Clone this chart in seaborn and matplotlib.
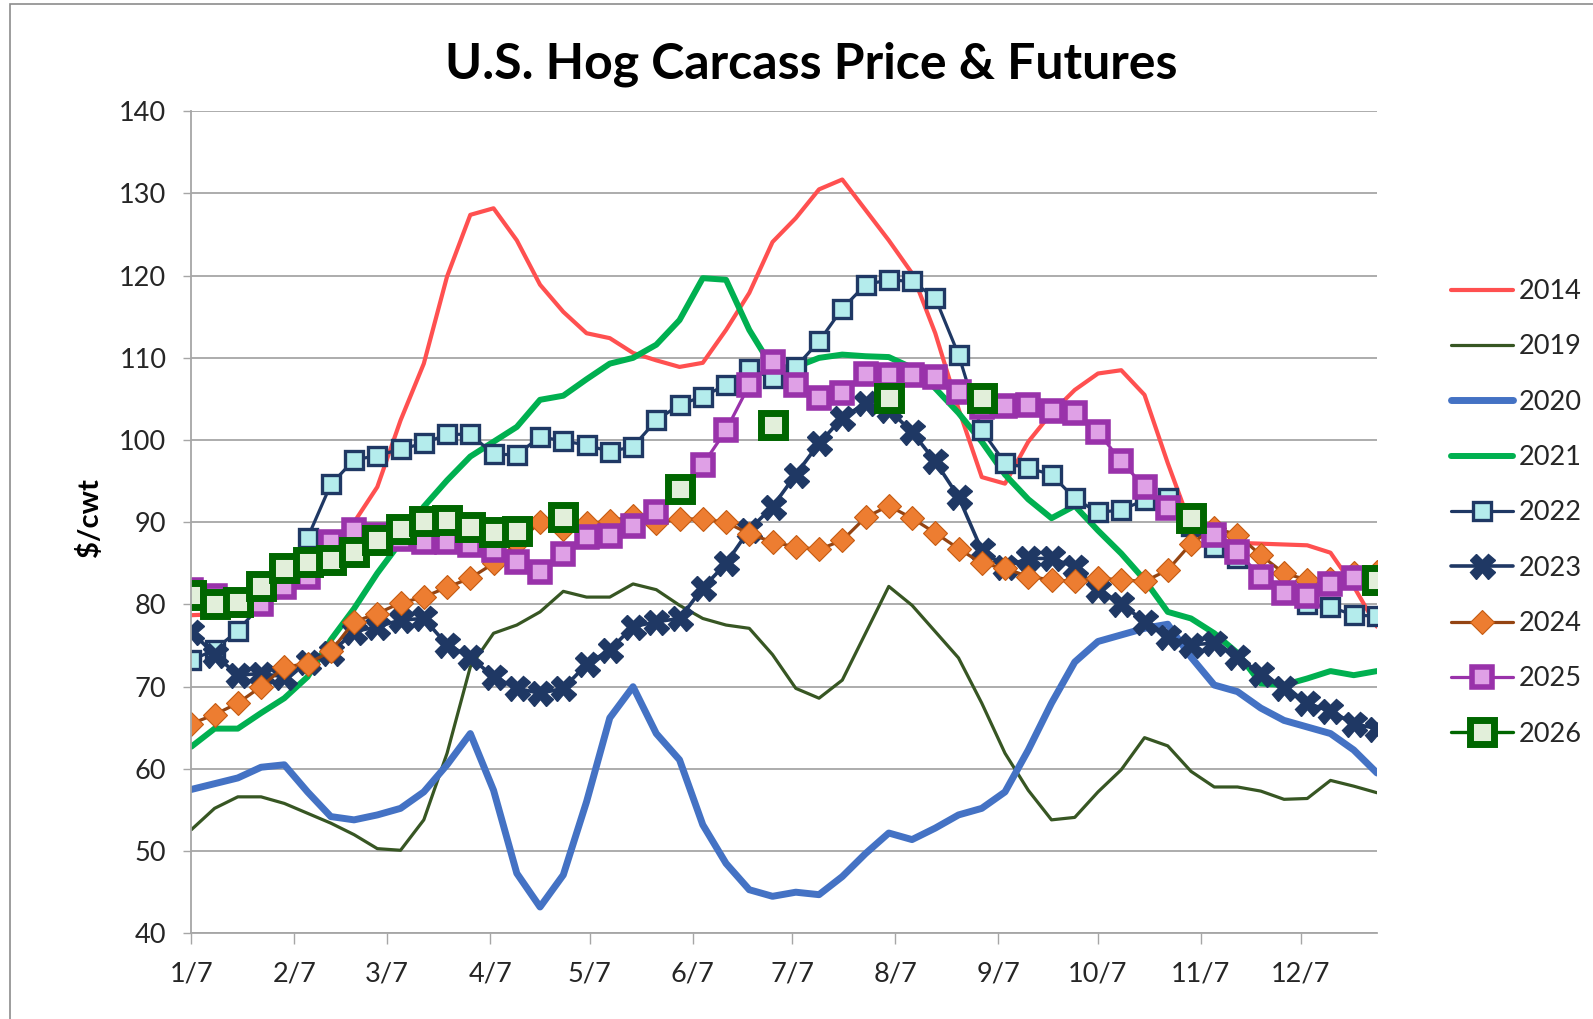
import matplotlib
matplotlib.use("Agg")
import matplotlib.pyplot as plt
import seaborn as sns

# weekly points, week 0 = Jan 7
weeks = list(range(52))
tick_days = [0, 31, 59, 90, 120, 151, 181, 212, 243, 273, 304, 334]
tick_labels = ["1/7", "2/7", "3/7", "4/7", "5/7", "6/7", "7/7", "8/7", "9/7", "10/7", "11/7", "12/7"]

y2014 = [78.7, 78.8, 79.0, 80.0, 81.2, 83.0, 86.0, 90.0, 94.3, 102.4,
         109.3, 119.9, 127.4, 128.2, 124.3, 118.9, 115.6, 113.0, 112.4, 110.6,
         109.7, 108.9, 109.4, 113.4, 117.9, 124.1, 127.0, 130.5, 131.7, 128.0,
         124.3, 120.3, 113.0, 103.8, 95.5, 94.7, 99.8, 103.3, 106.1, 108.1,
         108.5, 105.5, 97.2, 89.5, 88.0, 87.5, 87.4, 87.3, 87.2, 86.3,
         82.2, 77.3]
y2019 = [52.6, 55.2, 56.6, 56.6, 55.8, 54.6, 53.4, 52.0, 50.3, 50.1,
         53.8, 61.9, 72.4, 76.5, 77.5, 79.1, 81.6, 80.9, 80.9, 82.5,
         81.8, 79.9, 78.3, 77.5, 77.1, 73.9, 69.8, 68.6, 70.8, 76.5,
         82.2, 79.9, 76.7, 73.5, 68.0, 61.9, 57.4, 53.8, 54.1, 57.2,
         59.9, 63.8, 62.8, 59.7, 57.8, 57.8, 57.3, 56.3, 56.4, 58.6,
         57.9, 57.1]
y2020 = [57.5, 58.2, 58.9, 60.2, 60.5, 57.2, 54.2, 53.8, 54.4, 55.2,
         57.2, 60.5, 64.3, 57.4, 47.3, 43.2, 47.1, 56.0, 66.2, 70.0,
         64.3, 61.1, 53.2, 48.5, 45.3, 44.5, 45.0, 44.7, 46.9, 49.7,
         52.2, 51.4, 52.8, 54.4, 55.2, 57.2, 62.3, 68.0, 73.0, 75.5,
         76.3, 77.1, 77.6, 73.6, 70.2, 69.4, 67.4, 65.9, 65.1, 64.3,
         62.3, 59.5]
y2021 = [62.7, 64.9, 64.9, 66.8, 68.6, 71.2, 75.7, 79.5, 83.8, 87.6,
         91.9, 95.1, 98.0, 99.8, 101.6, 104.9, 105.4, 107.4, 109.3, 110.0,
         111.6, 114.6, 119.7, 119.5, 113.4, 108.8, 108.9, 110.0, 110.4, 110.2,
         110.1, 108.8, 106.3, 103.3, 99.8, 95.8, 92.8, 90.5, 92.0, 89.0,
         86.2, 83.0, 79.1, 78.3, 76.5, 74.1, 70.4, 70.2, 71.0, 71.9,
         71.4, 71.9]
y2022 = [73.2, 74.5, 76.8, 80.0, 84.0, 88.1, 94.6, 97.6, 98.1, 98.9,
         99.6, 100.7, 100.7, 98.3, 98.2, 100.4, 99.9, 99.4, 98.6, 99.2,
         102.4, 104.3, 105.3, 106.7, 108.7, 107.5, 108.9, 112.0, 116.0, 118.9,
         119.5, 119.3, 117.3, 110.4, 101.2, 97.2, 96.6, 95.8, 92.9, 91.2,
         91.5, 92.7, 93.0, 89.5, 87.0, 85.6, 83.5, 81.5, 80.0, 79.7,
         78.7, 78.6]
y2023 = [76.7, 73.9, 71.4, 71.6, 71.2, 73.0, 74.1, 76.7, 77.3, 78.1,
         78.3, 75.1, 73.6, 71.2, 69.8, 69.2, 69.8, 72.7, 74.5, 77.3,
         77.9, 78.3, 82.0, 85.0, 89.1, 91.9, 95.8, 99.6, 102.7, 104.5,
         103.7, 101.0, 97.4, 93.1, 86.6, 84.6, 85.6, 85.6, 84.6, 81.8,
         80.1, 77.9, 76.1, 75.1, 75.3, 73.6, 71.6, 69.8, 68.0, 67.0,
         65.5, 64.9]
y2024 = [65.5, 66.6, 68.0, 70.0, 72.4, 72.8, 74.3, 77.9, 78.9, 80.2,
         80.9, 82.1, 83.2, 85.0, 87.5, 90.0, 89.2, 89.9, 90.1, 90.8,
         89.9, 90.4, 90.4, 90.0, 88.6, 87.6, 87.0, 86.7, 87.8, 90.6,
         92.0, 90.5, 88.7, 86.8, 85.0, 84.4, 83.4, 83.0, 82.8, 83.2,
         83.0, 82.8, 84.2, 87.4, 89.3, 88.5, 86.0, 83.8, 83.0, 83.1,
         83.8, 84.0]
y2025 = [81.8, 81.0, 80.3, 80.0, 82.1, 83.4, 87.6, 89.1, 88.5, 88.0,
         87.6, 87.6, 87.2, 86.6, 85.2, 84.0, 86.2, 88.2, 88.3, 89.5,
         91.3, 94.0, 97.0, 101.2, 106.7, 109.5, 106.7, 105.1, 105.7, 108.1,
         107.9, 107.9, 107.7, 105.8, 104.0, 104.1, 104.3, 103.5, 103.3, 101.0,
         97.4, 94.3, 91.7, 90.5, 88.5, 86.4, 83.4, 81.4, 81.0, 82.5,
         83.2, 82.6]
y2026 = [81.2, 80.1, 80.3, 82.2, 84.4, 85.2, 85.4, 86.4, 87.9, 89.2,
         90.1, 90.3, 89.4, 88.8, 88.9, None, 90.7, None, None, None,
         None, 94.1, None, None, None, 101.8, None, None, None, None,
         105.1, None, None, None, 105.1, None, None, None, None, None,
         None, None, None, 90.5, None, None, None, None, None, None,
         None, 83.0]

navy = "#1F3864"

sns.set_style("white")
plt.rcParams["font.family"] = ["Lato", "DejaVu Sans"]

fig = plt.figure(figsize=(15.93, 10.19), dpi=100)
ax = fig.add_axes([0.1201, 0.0841, 0.7443, 0.8067])

# plain lines
sns.lineplot(x=weeks, y=y2014, ax=ax, color="#FF5050", linewidth=3, label="2014")
sns.lineplot(x=weeks, y=y2019, ax=ax, color="#375623", linewidth=2.3, label="2019")
sns.lineplot(x=weeks, y=y2020, ax=ax, color="#4472C4", linewidth=5, label="2020")
sns.lineplot(x=weeks, y=y2021, ax=ax, color="#00B050", linewidth=4.3, label="2021")

# lines with markers
sns.lineplot(x=weeks, y=y2022, ax=ax, color=navy, linewidth=2.3, marker="s", markersize=13,
             markerfacecolor="#B4ECEC", markeredgecolor=navy, markeredgewidth=2.4, label="2022")
sns.lineplot(x=weeks, y=y2023, ax=ax, color=navy, linewidth=2.6, marker="X", markersize=18,
             markerfacecolor=navy, markeredgecolor=navy, markeredgewidth=1, label="2023")
sns.lineplot(x=weeks, y=y2024, ax=ax, color="#944412", linewidth=2.3, marker="D", markersize=12.5,
             markerfacecolor="#ED7D31", markeredgecolor="#C55A11", markeredgewidth=0.8, label="2024")
sns.lineplot(x=weeks, y=y2025, ax=ax, color="#9932AA", linewidth=2.3, marker="s", markersize=14.5,
             markerfacecolor="#DFA0E6", markeredgecolor="#9932AA", markeredgewidth=4, label="2025")

# 2026: continuous run first, then lone weeks as markers only
run_w = [w for w in weeks if w <= 14]
run_v = [y2026[w] for w in run_w]
lone_w = [w for w in weeks if w > 14 and y2026[w] is not None]
lone_v = [y2026[w] for w in lone_w]
style26 = dict(color="#006600", marker="s", markersize=17.5, markerfacecolor="#E2EFDA",
               markeredgecolor="#006600", markeredgewidth=5)
sns.lineplot(x=run_w, y=run_v, ax=ax, linewidth=2.4, label="2026", **style26)
sns.lineplot(x=lone_w, y=lone_v, ax=ax, linewidth=0, **style26)

# axes
ax.set_xlim(0, 51)
ax.set_ylim(40, 140)
ax.set_yticks(range(40, 141, 10))
ax.set_xticks([d / 7 for d in tick_days])
ax.set_xticklabels(tick_labels)
ax.set_xlabel("")
ax.set_ylabel("")
ax.grid(axis="y", color="#a6a6a6", linewidth=1.3)
ax.grid(axis="x", visible=False)
ax.set_axisbelow(True)
for side in ["top", "right"]:
    ax.spines[side].set_visible(False)
for side in ["left", "bottom"]:
    ax.spines[side].set_color("#a6a6a6")
    ax.spines[side].set_linewidth(1.3)
ax.tick_params(axis="x", bottom=True, length=8, width=1, color="#a6a6a6", pad=12,
               labelsize=19.5, labelcolor="#262626")
ax.tick_params(axis="y", left=True, length=6, width=1, color="#a6a6a6", pad=12,
               labelsize=19.5, labelcolor="#262626")

# legend on the right
handles, labels = ax.get_legend_handles_labels()
ax.legend(handles, labels, loc="center left", bbox_to_anchor=(1451 / 1593, 0.4966),
          bbox_transform=fig.transFigure, frameon=False, fontsize=19.5, handlelength=2.3,
          handletextpad=0.2, labelspacing=1.12, borderpad=0, borderaxespad=0,
          labelcolor="#262626")

fig.text(0.509, 0.937, "U.S. Hog Carcass Price & Futures", ha="center", va="center",
         fontsize=36, fontweight="bold", color="black")
fig.text(0.0561, 0.4917, r"\$/cwt", rotation=90, ha="center", va="center",
         fontsize=21, fontweight="bold", color="black")

# thin frame around the chart
fig.patches.append(plt.Rectangle((10 / 1593, -0.05), 1.1, 1.05 - 4 / 1019, transform=fig.transFigure,
                                 fill=False, edgecolor="#8c8c8c", linewidth=1.2))

fig.savefig("out.png", dpi=100)
